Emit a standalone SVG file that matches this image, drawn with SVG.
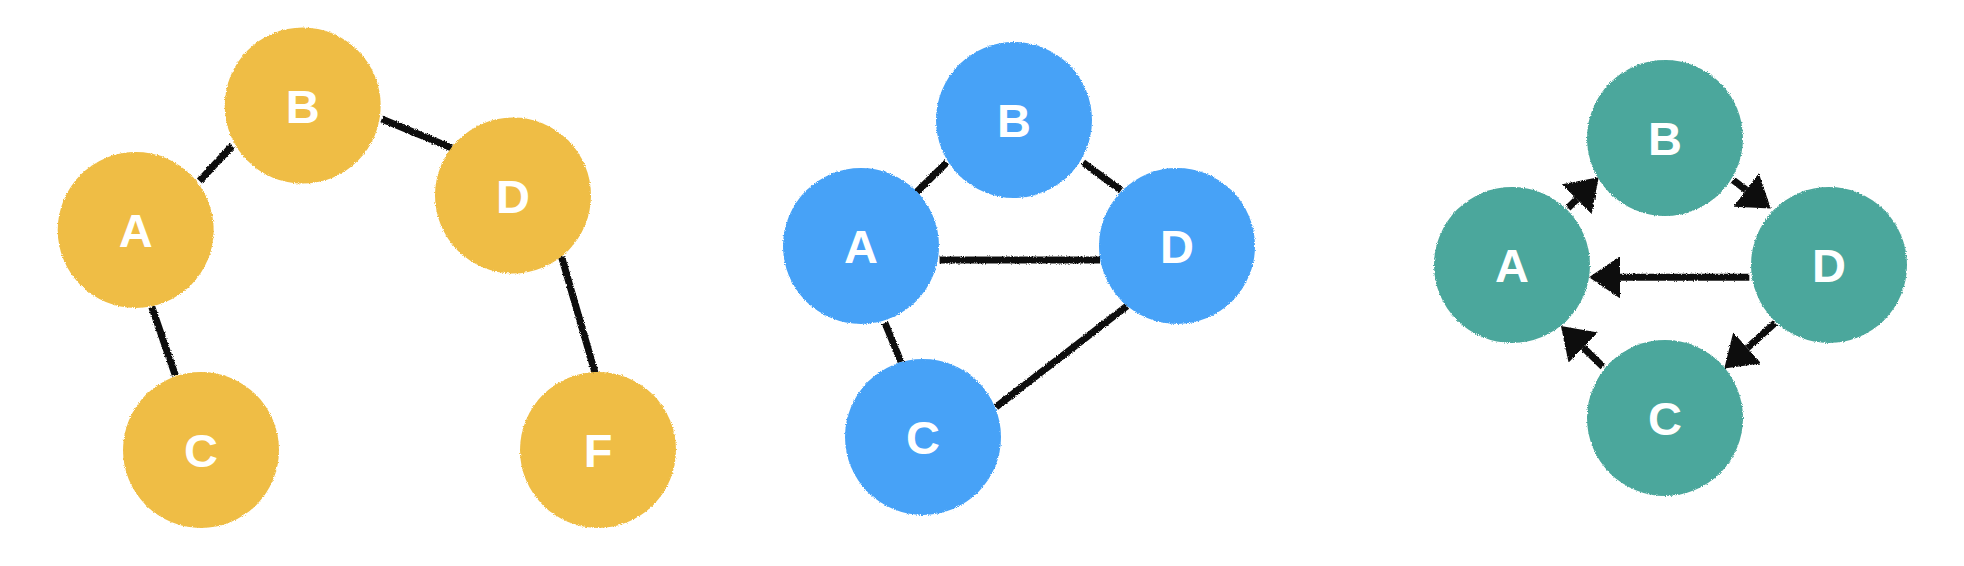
<svg xmlns="http://www.w3.org/2000/svg" width="1964" height="566" viewBox="0 0 1964 566">
  <defs>
    <filter id="rough" x="-10%" y="-10%" width="120%" height="120%">
      <feTurbulence type="fractalNoise" baseFrequency="0.9" numOctaves="2" seed="3" result="n"/>
      <feDisplacementMap in="SourceGraphic" in2="n" scale="3" xChannelSelector="R" yChannelSelector="G"/>
    </filter>
    <marker id="arrow" viewBox="0 0 31 42" refX="0" refY="21" markerWidth="31" markerHeight="42" markerUnits="userSpaceOnUse" orient="auto">
      <path d="M0,0 L31,21 L0,42 Z" fill="#111"/>
    </marker>
  </defs>
  <style>
    .edge { stroke: #111; stroke-width: 7; fill: none; stroke-linecap: butt; }
    .yellow { fill: #EFBD44; }
    .blue { fill: #46A2F7; }
    .teal { fill: #4CA79C; }
    .shape { filter: url(#rough); }
    .label { font-family: "Liberation Sans", Arial, Helvetica, sans-serif; font-weight: bold; font-size: 47px; fill: #FFFFFF; text-anchor: middle; }
  </style>
  <rect width="1964" height="566" fill="#FFFFFF"/>

  <g id="connectors" filter="url(#rough)">
    <!-- yellow graph -->
    <line class="edge" x1="199.5" y1="181" x2="232" y2="146"/>
    <line class="edge" x1="381.7" y1="119" x2="451.8" y2="148"/>
    <line class="edge" x1="151.8" y1="307" x2="175.4" y2="375.5"/>
    <line class="edge" x1="561.6" y1="257" x2="595" y2="372.6"/>
    <!-- blue graph -->
    <line class="edge" x1="916.7" y1="192" x2="946.7" y2="162.5"/>
    <line class="edge" x1="1083" y1="162.5" x2="1121" y2="190.4"/>
    <line class="edge" x1="939.6" y1="260" x2="1100" y2="260"/>
    <line class="edge" x1="885" y1="323" x2="901" y2="362"/>
    <line class="edge" x1="1127" y1="306" x2="996" y2="407"/>
    <!-- teal graph (directed) -->
    <line class="edge" x1="1568" y1="208" x2="1576.8" y2="199.2" marker-end="url(#arrow)"/>
    <line class="edge" x1="1733" y1="180" x2="1746.1" y2="189.9" marker-end="url(#arrow)"/>
    <line class="edge" x1="1749.3" y1="277.3" x2="1620" y2="277.3" marker-end="url(#arrow)"/>
    <line class="edge" x1="1775" y1="323" x2="1747.3" y2="347.9" marker-end="url(#arrow)"/>
    <line class="edge" x1="1603" y1="366.7" x2="1583.2" y2="347.5" marker-end="url(#arrow)"/>
  </g>

  <!-- yellow graph nodes -->
  <g id="y-A"><circle class="yellow shape" cx="135.7" cy="230" r="78"/><text class="label" x="135.7" y="247">A</text></g>
  <g id="y-B"><circle class="yellow shape" cx="302.7" cy="105.6" r="78"/><text class="label" x="302.7" y="122.6">B</text></g>
  <g id="y-C"><circle class="yellow shape" cx="201" cy="450" r="78"/><text class="label" x="201" y="467">C</text></g>
  <g id="y-D"><circle class="yellow shape" cx="513" cy="195.5" r="78"/><text class="label" x="513" y="212.5">D</text></g>
  <g id="y-F"><circle class="yellow shape" cx="598" cy="450" r="78"/><text class="label" x="598" y="467">F</text></g>

  <!-- blue graph nodes -->
  <g id="b-A"><circle class="blue shape" cx="861" cy="246" r="78"/><text class="label" x="861" y="263">A</text></g>
  <g id="b-B"><circle class="blue shape" cx="1014" cy="120" r="78"/><text class="label" x="1014" y="137">B</text></g>
  <g id="b-C"><circle class="blue shape" cx="923" cy="437" r="78"/><text class="label" x="923" y="454">C</text></g>
  <g id="b-D"><circle class="blue shape" cx="1177" cy="246" r="78"/><text class="label" x="1177" y="263">D</text></g>

  <!-- teal graph nodes -->
  <g id="t-A"><circle class="teal shape" cx="1512" cy="265" r="78"/><text class="label" x="1512" y="282">A</text></g>
  <g id="t-B"><circle class="teal shape" cx="1665" cy="138" r="78"/><text class="label" x="1665" y="155">B</text></g>
  <g id="t-C"><circle class="teal shape" cx="1665" cy="418" r="78"/><text class="label" x="1665" y="435">C</text></g>
  <g id="t-D"><circle class="teal shape" cx="1829" cy="265" r="78"/><text class="label" x="1829" y="282">D</text></g>
</svg>
